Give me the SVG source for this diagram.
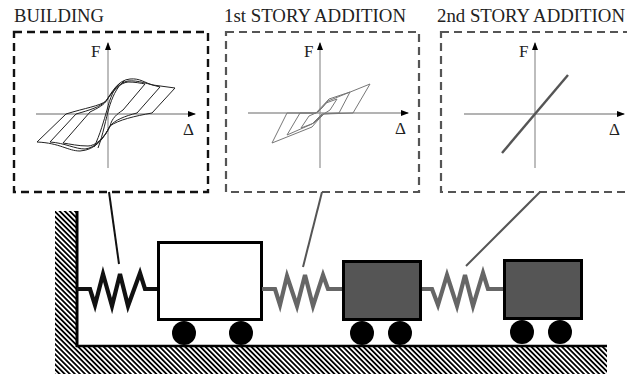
<svg xmlns="http://www.w3.org/2000/svg" width="627" height="374" viewBox="0 0 627 374">
  <defs>
    <pattern id="hatch" patternUnits="userSpaceOnUse" width="3.6" height="3.6" patternTransform="rotate(-45)">
      <rect width="3.6" height="3.6" fill="#fff"/>
      <rect width="1.8" height="3.6" fill="#000"/>
    </pattern>
    <marker id="tip" viewBox="0 0 8 6" refX="7" refY="3" markerWidth="8" markerHeight="6" markerUnits="userSpaceOnUse" orient="auto">
      <path d="M0,0 L8,3 L0,6 Z" fill="#000"/>
    </marker>
  </defs>
  <style>
    .title { font-family: "Liberation Serif", "Times New Roman", serif; font-size: 18.5px; fill: #222; }
    .lbl { font-family: "Liberation Serif", "Times New Roman", serif; font-size: 17px; fill: #222; }
    .axis { stroke: #9a9a9a; stroke-width: 1.3; fill: none; marker-end: url(#tip); }
    .frame1 { fill: none; stroke: #111; stroke-width: 2.4; stroke-dasharray: 8 5; }
    .frame2 { fill: none; stroke: #555; stroke-width: 2.2; stroke-dasharray: 8 5; }
    .loop1 { fill: none; stroke: #222; stroke-width: 1; }
    .loop2 { fill: none; stroke: #777; stroke-width: 1; }
    .spring { fill: none; stroke-width: 4.2; stroke-linejoin: miter; }
    .block { stroke: #000; stroke-width: 3; }
    .wheel { fill: #000; }
    .leader { stroke-width: 2; fill: none; }
  </style>

  <!-- ground and wall -->
  <g id="support">
    <rect x="55" y="211" width="21" height="163" fill="url(#hatch)"/>
    <rect x="55" y="347" width="552" height="27" fill="url(#hatch)"/>
    <line x1="77" y1="211" x2="77" y2="347" stroke="#000" stroke-width="3"/>
    <line x1="76" y1="346" x2="607" y2="346" stroke="#000" stroke-width="2.5"/>
  </g>

  <!-- force–displacement panels -->
  <g id="panel-building">
    <text class="title" x="14" y="22" textLength="90" lengthAdjust="spacingAndGlyphs">BUILDING</text>
    <rect class="frame1" x="14" y="32" width="194" height="160"/>
    <line class="axis" x1="108" y1="168" x2="108" y2="43"/>
    <line class="axis" x1="36" y1="114" x2="195" y2="114"/>
    <text class="lbl" x="91" y="57">F</text>
    <text class="lbl" x="183" y="135">Δ</text>
    <path class="loop1" d="M37,142 L66,114 C85,108 100,106 106,101 C112,92 118,80 130,79 C140,78 145,83 153,85 L175,88 L152,113 C135,116 118,120 110,126 C104,138 96,150 80,151 C68,151 60,143 37,142 Z"/>
    <path class="loop1" d="M50,142 L76,114 C90,110 100,107 106,101 C112,92 120,82 128,81 C138,80 148,84 160,87 L137,113 C125,116 115,120 110,126 C104,138 95,148 85,149 C75,149 65,143 50,142 Z"/>
    <path class="loop1" d="M63,143 L90,112 C98,108 104,105 107,100 C113,90 120,83 128,82 C135,82 140,83 145,84 L123,110 C117,114 112,118 110,126 C105,138 95,146 88,146 C78,146 70,144 63,143 Z"/>
    <path class="loop1" d="M98,148 C103,135 106,118 109,108 C112,98 116,88 124,81"/>
    <path class="loop1" d="M94,147 C100,135 104,120 107,110 C110,98 114,88 120,83"/>
  </g>

  <g id="panel-first-addition">
    <text class="title" x="224" y="22" textLength="182" lengthAdjust="spacingAndGlyphs">1st STORY ADDITION</text>
    <rect class="frame2" x="226" y="32" width="193" height="160"/>
    <line class="axis" x1="320" y1="168" x2="320" y2="43"/>
    <line class="axis" x1="248" y1="113" x2="408" y2="113"/>
    <text class="lbl" x="304" y="57">F</text>
    <text class="lbl" x="395" y="134">Δ</text>
    <path class="loop2" d="M272,143 L287,113 L316,113 L322,108 L328,101 L370,84 L353,113 L324,114 L318,120 L312,127 Z"/>
    <path class="loop2" d="M287,135 L300,113 L316,113 L329,99 L350,92 L339,113 L322,114 L312,124 Z"/>
    <path class="loop2" d="M301,128 L309,116 L318,112 L326,103 L337,99 L330,110 L322,115 L314,123 Z"/>
  </g>

  <g id="panel-second-addition">
    <text class="title" x="437" y="22" textLength="188" lengthAdjust="spacingAndGlyphs">2nd STORY ADDITION</text>
    <rect class="frame2" x="441" y="32" width="194" height="160"/>
    <line class="axis" x1="535" y1="168" x2="535" y2="43"/>
    <line class="axis" x1="464" y1="114" x2="624" y2="114"/>
    <text class="lbl" x="519" y="57">F</text>
    <text class="lbl" x="609" y="135">Δ</text>
    <line x1="502" y1="153" x2="568" y2="75" stroke="#555" stroke-width="2.4"/>
  </g>

  <!-- masses on wheels -->
  <g id="mass-building">
    <rect class="block" x="158.5" y="242.5" width="103" height="77" fill="#fff"/>
    <circle class="wheel" cx="184" cy="333" r="12"/>
    <circle class="wheel" cx="241" cy="333" r="12"/>
  </g>
  <g id="mass-first-addition">
    <rect class="block" x="343.5" y="261.5" width="77" height="58" fill="#555"/>
    <circle class="wheel" cx="362" cy="333" r="12"/>
    <circle class="wheel" cx="400" cy="333" r="12"/>
  </g>
  <g id="mass-second-addition">
    <rect class="block" x="504.5" y="260.5" width="77" height="58" fill="#555"/>
    <circle class="wheel" cx="522" cy="332" r="12"/>
    <circle class="wheel" cx="560" cy="332" r="12"/>
  </g>

  <!-- springs and leaders -->
  <g id="connectors">
    <polyline class="spring" stroke="#111" points="77,289 90,289 95,305 103,274 112,306 120,274 128,306 140,273 145,289 157,289"/>
    <polyline class="spring" stroke="#666" points="262,289 275,289 280,305 287,276 297,306 305,275 313,306 323,275 328,289 342,289"/>
    <polyline class="spring" stroke="#666" points="422,289 432,289 438,305 447,275 457,306 465,275 473,306 483,273 488,289 503,289"/>
    <line class="leader" stroke="#111" x1="109" y1="192" x2="119" y2="264"/>
    <line class="leader" stroke="#555" x1="322" y1="192" x2="303" y2="267"/>
    <line class="leader" stroke="#555" x1="540" y1="192" x2="466" y2="266"/>
  </g>
</svg>
